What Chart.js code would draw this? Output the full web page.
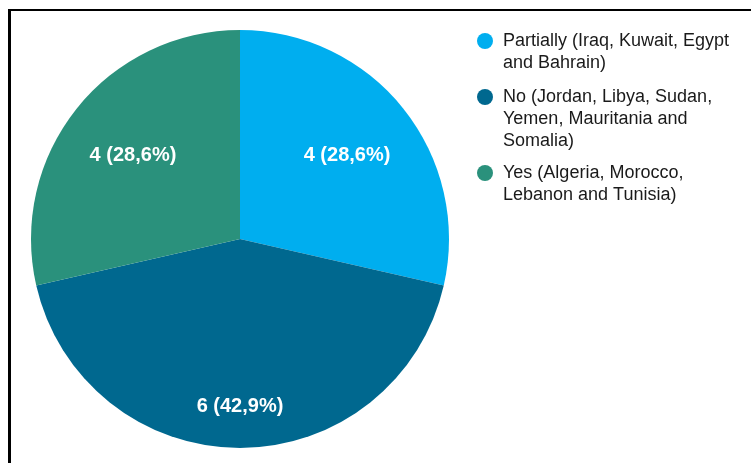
<!DOCTYPE html>
<html>
<head>
<meta charset="utf-8">
<script src="https://cdn.jsdelivr.net/npm/chart.js@4/dist/chart.umd.min.js"></script>
<style>
  html, body { margin: 0; padding: 0; background: #fff; overflow: hidden; }
  #wrap { position: relative; width: 751px; height: 463px; }
  #frame { position: absolute; left: 8px; top: 9px; width: 800px; height: 500px; border: 2px solid #000; border-left-width: 3px; box-sizing: border-box; }
  canvas { position: absolute; left: 0; top: 0; }
</style>
</head>
<body>
<div id="wrap">
  <div id="frame"></div>
  <canvas id="c" width="751" height="463"></canvas>
</div>
<script>
const categories = [
  ["Partially (Iraq, Kuwait, Egypt", "and Bahrain)"],
  ["No (Jordan, Libya, Sudan,", "Yemen, Mauritania and", "Somalia)"],
  ["Yes (Algeria, Morocco,", "Lebanon and Tunisia)"]
];
const counts = [4, 6, 4];
const percentLabels = ["28,6%", "42,9%", "28,6%"];
const colors = ["#00AEEF", "#00688F", "#2A917C"];

const labelPlugin = {
  id: 'sliceLabels',
  afterDatasetsDraw(chart) {
    const ctx = chart.ctx;
    const meta = chart.getDatasetMeta(0);
    const factors = [0.655, 0.795, 0.655];
    ctx.save();
    ctx.font = 'bold 20px "Liberation Sans", Arial, sans-serif';
    ctx.fillStyle = '#ffffff';
    ctx.textAlign = 'center';
    ctx.textBaseline = 'middle';
    meta.data.forEach((arc, i) => {
      const p = arc.getProps(['x','y','startAngle','endAngle','outerRadius'], true);
      const mid = (p.startAngle + p.endAngle) / 2;
      const r = p.outerRadius * factors[i];
      const x = p.x + Math.cos(mid) * r;
      const y = p.y + Math.sin(mid) * r + 1.5;
      ctx.fillText(counts[i] + ' (' + percentLabels[i] + ')', x, y);
    });
    ctx.restore();
  }
};

const legendPlugin = {
  id: 'sideLegend',
  afterDraw(chart) {
    const ctx = chart.ctx;
    const itemTops = [41, 97, 173];
    const lineH = 22;
    ctx.save();
    ctx.font = '18px "Liberation Sans", Arial, sans-serif';
    ctx.textAlign = 'left';
    ctx.textBaseline = 'middle';
    categories.forEach((lines, i) => {
      ctx.fillStyle = colors[i];
      ctx.beginPath();
      ctx.arc(485, itemTops[i], 8, 0, Math.PI * 2);
      ctx.fill();
      ctx.fillStyle = '#1a1a1a';
      lines.forEach((t, j) => ctx.fillText(t, 503, itemTops[i] + j * lineH));
    });
    ctx.restore();
  }
};

new Chart(document.getElementById('c'), {
  type: 'pie',
  data: {
    labels: categories,
    datasets: [{
      data: counts,
      backgroundColor: colors,
      borderWidth: 0
    }]
  },
  options: {
    responsive: false,
    animation: false,
    layout: { padding: { left: 31, right: 302, top: 30, bottom: 15 } },
    plugins: {
      legend: { display: false },
      tooltip: { enabled: false }
    }
  },
  plugins: [labelPlugin, legendPlugin]
});
</script>
</body>
</html>
